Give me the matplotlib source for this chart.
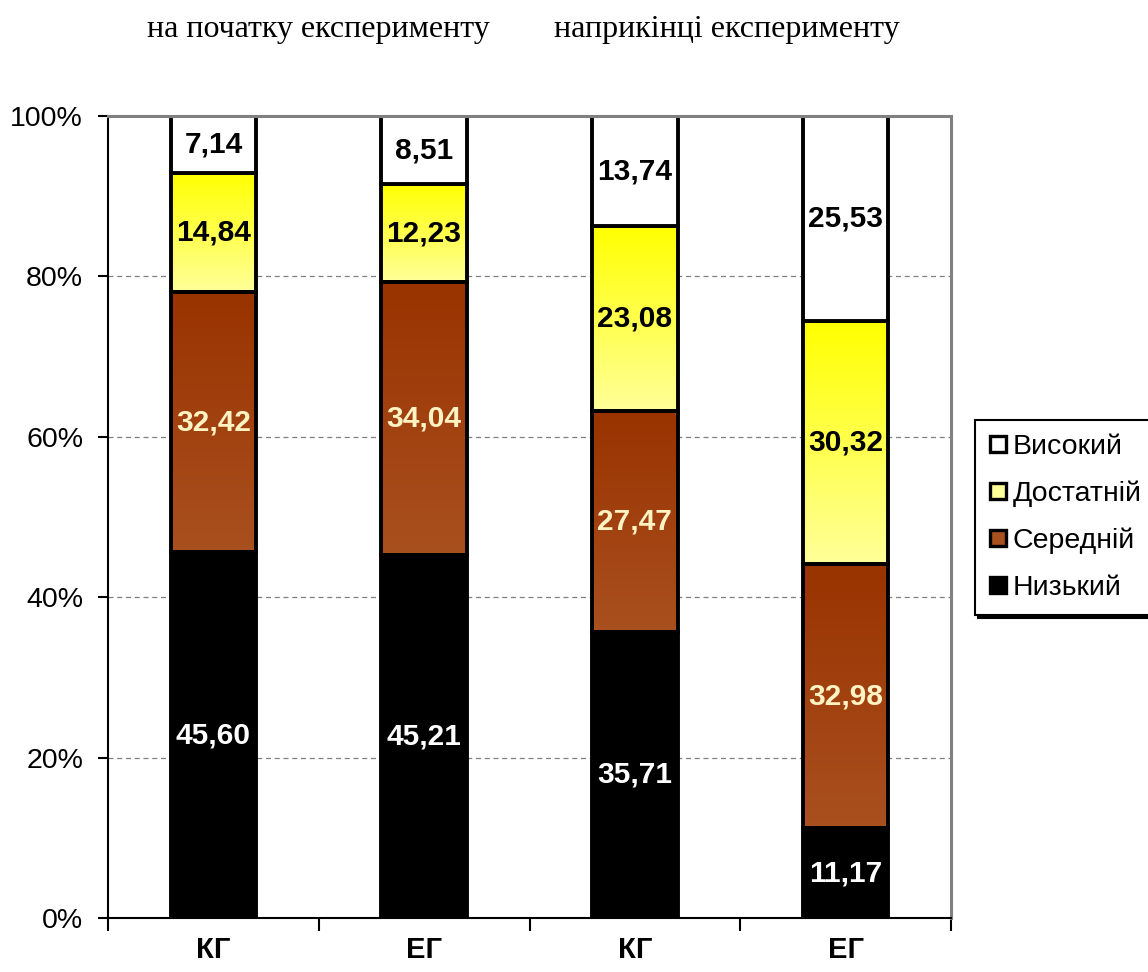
import matplotlib
matplotlib.use("Agg")
import matplotlib.pyplot as plt
import numpy as np
from matplotlib.colors import LinearSegmentedColormap
from matplotlib.lines import Line2D

# Levels of achievement, percent of group, per group and stage
groups = ["КГ", "ЕГ", "КГ", "ЕГ"]
stages = ["на початку експерименту", "наприкінці експерименту"]
levels = ["Низький", "Середній", "Достатній", "Високий"]
low = [45.60, 45.21, 35.71, 11.17]
medium = [32.42, 34.04, 27.47, 32.98]
sufficient = [14.84, 12.23, 23.08, 30.32]
high = [7.14, 8.51, 13.74, 25.53]
series = [low, medium, sufficient, high]

fig = plt.figure(figsize=(11.48, 9.72), dpi=100)
ax = fig.add_axes([108 / 1148, 54 / 972, 843 / 1148, 802 / 972])

x = np.arange(len(groups))
width = 0.405
edge_lw = 2.8

brown_cmap = LinearSegmentedColormap.from_list("brown", ["#A9501F", "#993300"])
yellow_cmap = LinearSegmentedColormap.from_list("yellow", ["#FFFF99", "#FFFF00"])
grad = np.linspace(0, 1, 256).reshape(-1, 1)

styles = [
    dict(face="#000000", cmap=None, text="white"),
    dict(face="none", cmap=brown_cmap, text="#FFF3C4"),
    dict(face="none", cmap=yellow_cmap, text="black"),
    dict(face="white", cmap=None, text="black"),
]

bottom = np.zeros(len(groups))
for vals, st in zip(series, styles):
    vals = np.array(vals)
    for i in range(len(groups)):
        if st["cmap"] is not None:
            ax.imshow(grad, cmap=st["cmap"], origin="lower", aspect="auto",
                      extent=(x[i] - width / 2, x[i] + width / 2,
                              bottom[i], bottom[i] + vals[i]),
                      zorder=1.5, interpolation="bilinear")
    ax.bar(x, vals, width, bottom=bottom, facecolor=st["face"],
           edgecolor="black", linewidth=edge_lw, zorder=2)
    for i in range(len(groups)):
        ax.text(x[i], bottom[i] + vals[i] / 2, f"{vals[i]:.2f}".replace(".", ","),
                ha="center", va="center", fontsize=21.5, fontweight="bold",
                color=st["text"], family="Liberation Sans", zorder=3)
    bottom += vals

ax.set_xlim(-0.5, len(groups) - 0.5)
ax.set_ylim(0, 100)

# y axis
ax.set_yticks(np.arange(0, 101, 20))
ax.set_yticklabels([f"{v}%" for v in range(0, 101, 20)], family="Liberation Sans",
                   fontsize=20.5)
ax.tick_params(axis="y", direction="out", length=7, width=1.5, pad=11)
ax.yaxis.grid(True, linestyle=(0, (4, 3)), color="#808080", linewidth=0.9)
ax.set_axisbelow(True)

# x axis: ticks at group boundaries, labels at bar centres
ax.set_xticks(np.arange(-0.5, len(groups)), minor=False)
ax.set_xticklabels([])
ax.tick_params(axis="x", which="major", direction="out", length=9, width=1.5)
ax.set_xticks(x, minor=True)
ax.set_xticklabels(groups, minor=True, fontsize=21, fontweight="bold",
                   family="Liberation Sans")
ax.tick_params(axis="x", which="minor", length=0, pad=13)

for side in ["left", "bottom"]:
    ax.spines[side].set_color("black")
    ax.spines[side].set_linewidth(1.5)
for side in ["top", "right"]:
    ax.spines[side].set_color("#808080")
    ax.spines[side].set_linewidth(2.2)

# stage captions
fig.text(318 / 1148, 1 - 30 / 972, stages[0], ha="center", va="center",
         family="Liberation Serif", fontsize=23)
fig.text(727 / 1148, 1 - 30 / 972, stages[1], ha="center", va="center",
         family="Liberation Serif", fontsize=23)

# legend
legend_faces = ["white", "#FFFF99", "#A9501F", "black"]
handles = []
for face, name in zip(legend_faces, levels[::-1]):
    handles.append(Line2D([], [], linestyle="none", marker="s", markersize=12,
                          markerfacecolor=face, markeredgecolor="black",
                          markeredgewidth=2.4, label=name))
leg = fig.legend(handles=handles, loc="upper left",
                 bbox_to_anchor=(975 / 1148, 1 - 420 / 972),
                 prop=dict(family="Liberation Sans", size=20.5),
                 frameon=True, fancybox=False, shadow={"color": "black", "alpha": 1},
                 handlelength=0.6, handletextpad=0.22, labelspacing=0.72,
                 borderpad=0.5, borderaxespad=0)
leg.get_frame().set_edgecolor("black")
leg.get_frame().set_linewidth(1.5)

fig.savefig("out.png", dpi=100)
